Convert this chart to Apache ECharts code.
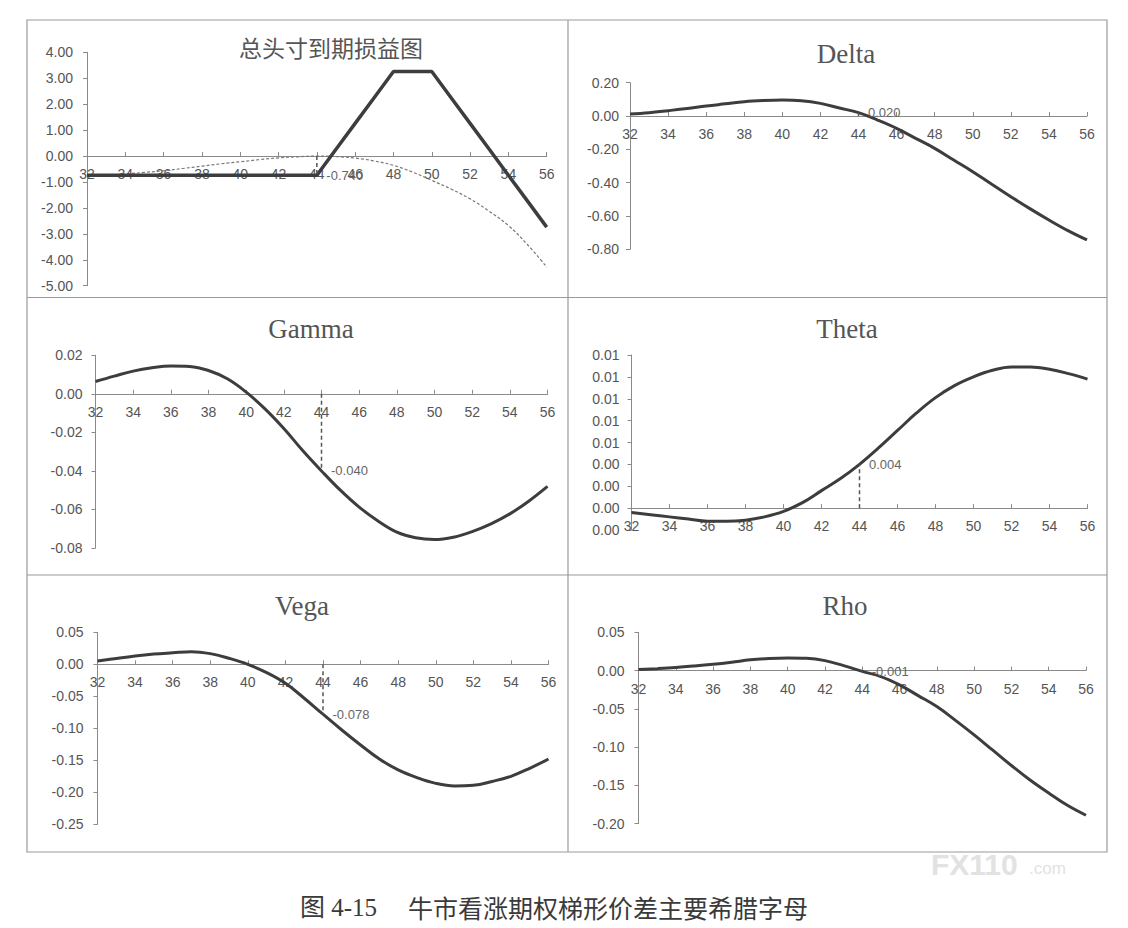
<!DOCTYPE html>
<html lang="zh">
<head>
    <meta charset="UTF-8">
    <script src="https://cdn.jsdelivr.net/npm/echarts@6/dist/echarts.min.js"></script>
    <title>牛市看涨期权梯形价差主要希腊字母</title>
    <style>
        body {margin: 0; background: #fff;}
    </style>
</head>
<body>

<div id="ec" style="width:1128px;height:928px;"></div>

<script>
    // 标的价格
    var strikes = [32, 33, 34, 35, 36, 37, 38, 39, 40, 41, 42, 43, 44, 45, 46, 47, 48, 49, 50, 51, 52, 53, 54, 55, 56];

    // 到期损益 (实线) 与 当前损益 (虚线)
    var pnlExpiry = [-0.74, -0.74, -0.74, -0.74, -0.74, -0.74, -0.74, -0.74, -0.74, -0.74, -0.74, -0.74, -0.74,
        0.26, 1.26, 2.26, 3.26, 3.26, 3.26, 2.26, 1.26, 0.26, -0.74, -1.74, -2.74];
    var pnlNow = [-0.76, -0.74, -0.69, -0.63, -0.57, -0.48, -0.39, -0.30, -0.22, -0.14, -0.07, -0.03, 0.00,
        -0.02, -0.08, -0.19, -0.36, -0.62, -0.94, -1.27, -1.65, -2.13, -2.68, -3.42, -4.28];

    var delta = [0.012, 0.020, 0.032, 0.045, 0.060, 0.073, 0.086, 0.093, 0.096, 0.092, 0.076, 0.048, 0.020,
        -0.024, -0.074, -0.134, -0.194, -0.264, -0.334, -0.410, -0.484, -0.556, -0.624, -0.688, -0.744];
    var gamma = [0.0064, 0.0092, 0.0118, 0.0135, 0.0144, 0.0142, 0.0121, 0.0078, 0.0009, -0.0078, -0.018, -0.0294, -0.040,
        -0.050, -0.0588, -0.066, -0.0718, -0.0747, -0.0756, -0.0744, -0.0715, -0.0675, -0.0623, -0.0557, -0.048];
    var theta = [-0.0004, -0.0006, -0.0008, -0.0010, -0.0012, -0.0012, -0.0011, -0.0008, -0.0003, 0.0005, 0.0016, 0.0027, 0.004,
        0.0055, 0.0071, 0.0087, 0.0101, 0.0112, 0.0120, 0.0126, 0.0129, 0.0129, 0.0127, 0.0123, 0.0118];
    var vega = [0.0052, 0.009, 0.013, 0.016, 0.018, 0.0198, 0.0167, 0.0094, 0.0, -0.013, -0.0297, -0.053, -0.078,
        -0.1026, -0.126, -0.148, -0.165, -0.177, -0.186, -0.190, -0.189, -0.183, -0.175, -0.1625, -0.148];
    var rho = [0.0013, 0.0025, 0.004, 0.006, 0.0083, 0.011, 0.014, 0.0158, 0.0165, 0.016, 0.013, 0.0065, -0.001,
        -0.0078, -0.0187, -0.0327, -0.047, -0.065, -0.084, -0.104, -0.124, -0.143, -0.160, -0.176, -0.189];

    // 每个小图: 标题, 数据, y轴范围
    var panels = [
        {title: '总头寸到期损益图', data: pnlExpiry, min: -5, max: 4, step: 1,
            grid: {left: 87, top: 52.3, width: 459.7, height: 233.4}, tx: 331, ty: 47, cjk: true, ym: 14},
        {title: 'Delta', data: delta, min: -0.8, max: 0.2, step: 0.2,
            grid: {left: 630, top: 82.7, width: 457, height: 166.6}, tx: 846, ty: 54, ym: 11},
        {title: 'Gamma', data: gamma, min: -0.08, max: 0.02, step: 0.02,
            grid: {left: 95.5, top: 355.3, width: 452, height: 192.7}, tx: 311, ty: 329, ym: 13},
        {title: 'Theta', data: theta, min: -0.002, max: 0.014, step: 0.002,
            grid: {left: 631.5, top: 355, width: 456, height: 175}, tx: 847, ty: 329, ym: 12},
        {title: 'Vega', data: vega, min: -0.25, max: 0.05, step: 0.05,
            grid: {left: 97.5, top: 632.3, width: 451, height: 192}, tx: 302, ty: 606, ym: 14},
        {title: 'Rho', data: rho, min: -0.2, max: 0.05, step: 0.05,
            grid: {left: 638.5, top: 632.3, width: 447.5, height: 191.4}, tx: 845, ty: 606, ym: 14}
    ];

    var lineColor = '#3d3d3d';
    var axisColor = '#8a8a8a';
    var textColor = '#555';

    function fmt2(v) {
        var s = v.toFixed(2);
        return s === '-0.00' ? '0.00' : s;
    }

    function pairs(xs, ys) {
        return xs.map(function (x, i) { return [x, ys[i]]; });
    }

    var grids = [], xAxes = [], yAxes = [], series = [], graphics = [];

    panels.forEach(function (p, k) {
        grids.push(p.grid);
        // x轴放在 y=0 处 (Excel 的样式)
        var zeroOffset = -p.grid.height * (0 - p.min) / (p.max - p.min);
        xAxes.push({
            type: 'value', gridIndex: k, min: 32, max: 56, interval: 2,
            position: 'bottom', offset: zeroOffset,
            axisLine: {onZero: false, lineStyle: {color: axisColor, width: 1}},
            axisTick: {show: true, inside: true, length: 4, lineStyle: {color: axisColor}},
            axisLabel: {color: textColor, fontSize: 14, fontFamily: 'Liberation Sans', margin: 11},
            splitLine: {show: false}
        });
        yAxes.push({
            type: 'value', gridIndex: k, min: p.min, max: p.max, interval: p.step,
            axisLine: {show: true, onZero: false, lineStyle: {color: axisColor, width: 1}},
            axisTick: {show: true, inside: false, length: 4, lineStyle: {color: axisColor}},
            axisLabel: {color: textColor, fontSize: 14, fontFamily: 'Liberation Sans', margin: p.ym, formatter: fmt2},
            splitLine: {show: false}
        });

        var smooth = k === 0 ? false : 0.4;
        series.push({
            type: 'line', xAxisIndex: k, yAxisIndex: k, data: pairs(strikes, p.data),
            smooth: smooth, symbol: 'none',
            lineStyle: {color: lineColor, width: k === 0 ? 3.5 : 3}, z: 3
        });

        // 44 处的虚线标记
        var v44 = p.data[strikes.indexOf(44)];
        series.push({
            type: 'line', xAxisIndex: k, yAxisIndex: k,
            symbol: 'circle', symbolSize: 1, showSymbol: true,
            itemStyle: {color: 'rgba(0,0,0,0)'},
            lineStyle: {color: '#555', width: 1.5, type: [4, 3]}, z: 4,
            label: {show: false},
            data: [[44, 0], {
                value: [44, v44],
                label: {
                    show: true, position: 'right', distance: 9,
                    color: '#666', fontSize: 13, fontFamily: 'Liberation Sans',
                    formatter: v44.toFixed(3)
                }
            }]
        });

        graphics.push({
            type: 'text', x: p.tx, y: p.ty, silent: true,
            style: {
                text: p.title, fill: textColor,
                fontSize: p.cjk ? 23 : 27,
                fontFamily: p.cjk ? 'Noto Sans CJK SC' : 'Liberation Serif',
                align: 'center', verticalAlign: 'middle'
            }
        });
    });

    // 当前损益曲线
    series.push({
        type: 'line', xAxisIndex: 0, yAxisIndex: 0, data: pairs(strikes, pnlNow),
        smooth: 0.4, symbol: 'none', z: 2,
        lineStyle: {color: '#7a7a7a', width: 1.2, type: [3, 2]}
    });

    // 外框与分隔线
    var border = '#9a9a9a';
    graphics.push(
        {type: 'rect', silent: true, shape: {x: 27, y: 20, width: 1080, height: 832},
            style: {fill: 'none', stroke: border, lineWidth: 1.2}},
        {type: 'line', silent: true, shape: {x1: 568, y1: 20, x2: 568, y2: 852}, style: {stroke: border, lineWidth: 1.2}},
        {type: 'line', silent: true, shape: {x1: 27, y1: 297.5, x2: 1107, y2: 297.5}, style: {stroke: border, lineWidth: 1.2}},
        {type: 'line', silent: true, shape: {x1: 27, y1: 575, x2: 1107, y2: 575}, style: {stroke: border, lineWidth: 1.2}},
        // 水印
        {type: 'text', x: 931, y: 864, silent: true,
            style: {text: 'FX110', fill: '#e2e2e2', fontSize: 30, fontWeight: 'bold', fontFamily: 'Liberation Sans',
                align: 'left', verticalAlign: 'middle'}},
        {type: 'text', x: 1029, y: 868, silent: true,
            style: {text: '.com', fill: '#e2e2e2', fontSize: 17, fontFamily: 'Liberation Sans',
                align: 'left', verticalAlign: 'middle'}},
        // 图注
        {type: 'text', x: 300, y: 907, silent: true,
            style: {text: '图 4-15', fill: '#3a3a3a', fontSize: 25, fontFamily: 'Liberation Serif, Noto Sans CJK SC',
                align: 'left', verticalAlign: 'middle'}},
        {type: 'text', x: 408, y: 907, silent: true,
            style: {text: '牛市看涨期权梯形价差主要希腊字母', fill: '#3a3a3a', fontSize: 25, fontFamily: 'Noto Sans CJK SC',
                align: 'left', verticalAlign: 'middle'}}
    );

    var myChart = echarts.init(document.getElementById('ec'), null, {renderer: 'svg'});
    myChart.setOption({
        backgroundColor: '#fff',
        animation: false,
        grid: grids,
        xAxis: xAxes,
        yAxis: yAxes,
        series: series,
        graphic: graphics
    });
</script>

</body>
</html>
